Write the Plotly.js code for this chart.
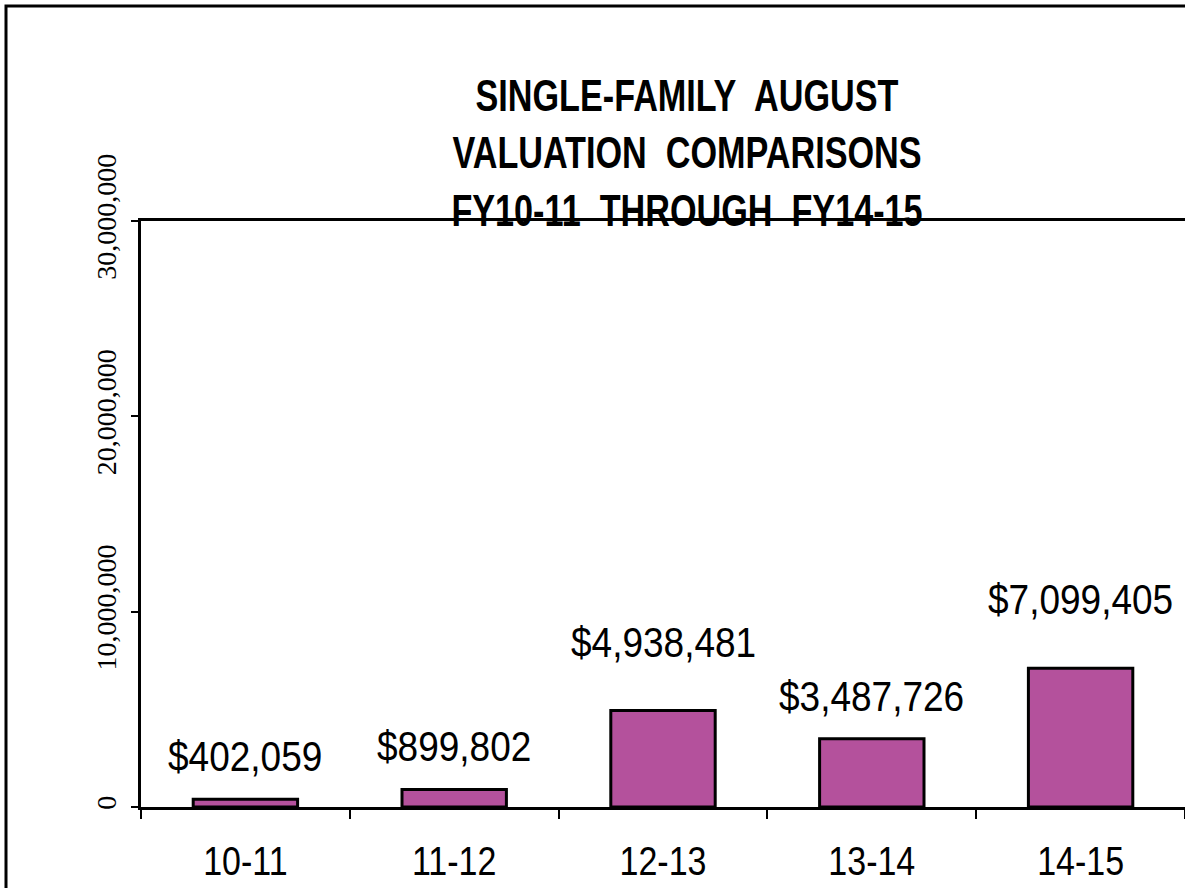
<!DOCTYPE html>
<html>
<head>
<meta charset="utf-8">
<script src="https://cdn.plot.ly/plotly-3.0.1.min.js"></script>
<style>
  html, body { margin: 0; padding: 0; background: #fff; overflow: hidden; }
  #chart { width: 1185px; height: 888px; }
</style>
</head>
<body>
<div id="chart"></div>
<script>
const categories = ["10-11", "11-12", "12-13", "13-14", "14-15"];
const valuations = [402059, 899802, 4938481, 3487726, 7099405];
const valueLabels = ["$402,059", "$899,802", "$4,938,481", "$3,487,726", "$7,099,405"];
const yTickValues = [0, 10000000, 20000000, 30000000];
const yTickLabels = ["0", "10,000,000", "20,000,000", "30,000,000"];

// styling: extra lift (px) of each value label above its bar, as placed in the original
const labelLift = [20, 20, 46, 20, 46];

const sans = 'Liberation Sans, Arial, sans-serif';
const serif = 'Liberation Serif, Times New Roman, serif';

const trace = {
  type: 'bar',
  x: categories,
  y: valuations,
  width: 0.5,
  marker: { color: '#B4519C', line: { color: '#000', width: 3 } },
  hoverinfo: 'skip'
};

const annotations = categories.map((c, i) => ({
  x: c, y: valuations[i], xref: 'x', yref: 'y',
  text: valueLabels[i], showarrow: false,
  yanchor: 'bottom', xanchor: 'center', yshift: labelLift[i],
  font: { family: sans, size: 37, color: '#000' }
}));

const layout = {
  width: 1185, height: 888,
  margin: { l: 141, r: 0, t: 221, b: 81, pad: 0 },
  paper_bgcolor: '#fff', plot_bgcolor: '#fff',
  showlegend: false,
  title: {
    text: 'SINGLE-FAMILY\u00a0 AUGUST<br>VALUATION\u00a0 COMPARISONS<br>FY10-11\u00a0 THROUGH\u00a0 FY14-15',
    font: { family: sans, size: 40, color: '#000', weight: 'bold' },
    xref: 'container', yref: 'container',
    x: 687 / 1185, xanchor: 'center', y: 1 - 115 / 888, yanchor: 'top'
  },
  xaxis: {
    type: 'category',
    showline: true, linecolor: '#000', linewidth: 3, mirror: true,
    ticks: 'outside', tickson: 'boundaries', ticklen: 9, tickwidth: 2, tickcolor: '#000',
    showgrid: false, zeroline: false,
    tickfont: { family: sans, size: 34, color: '#000' },
    ticklabelstandoff: 22
  },
  yaxis: {
    range: [0, 30000000],
    showline: true, linecolor: '#000', linewidth: 3,
    ticks: 'outside', ticklen: 7, tickwidth: 2, tickcolor: '#000',
    tickmode: 'array', tickvals: yTickValues, ticktext: yTickLabels,
    tickangle: -90,
    showgrid: false, zeroline: false,
    tickfont: { family: serif, size: 28, color: '#000' },
    ticklabelstandoff: 4
  },
  annotations: annotations,
  shapes: [{
    type: 'rect', xref: 'paper', yref: 'paper',
    x0: (6 - 141) / 1044, x1: 1.3,
    y0: -0.5, y1: (807 - 6) / 586,
    line: { color: '#000', width: 3 }, fillcolor: 'rgba(0,0,0,0)', layer: 'above'
  }]
};

// narrow the glyphs like the condensed face used in the original
function stretch(selector, sx, sy) {
  document.querySelectorAll(selector).forEach(el => {
    const b = el.getBBox();
    const cx = b.x + b.width / 2, cy = b.y + b.height / 2;
    const t = el.getAttribute('transform') || '';
    el.setAttribute('transform',
      t + ' translate(' + cx + ',' + cy + ') scale(' + sx + ',' + sy + ') translate(' + (-cx) + ',' + (-cy) + ')');
  });
}

Plotly.newPlot('chart', [trace], layout, { staticPlot: true, displayModeBar: false }).then(() => {
  stretch('.xtick text', 1, 1.2);
  stretch('.annotation-text', 1, 1.14);
  stretch('.gtitle', 0.855, 1.1);
});
</script>
</body>
</html>
